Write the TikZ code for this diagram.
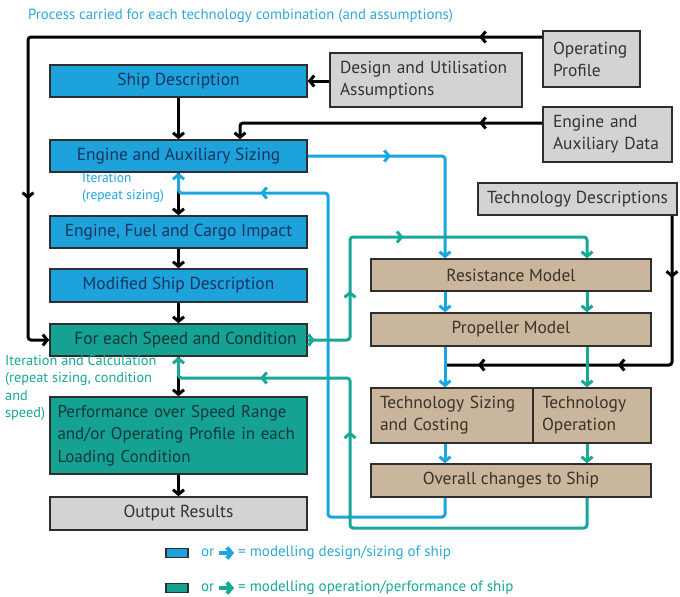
\documentclass[tikz,border=0pt]{standalone}
\usepackage{fontspec}
\setmainfont{PT Sans}
\usetikzlibrary{arrows.meta,decorations.markings,calc}
\definecolor{bfill}{HTML}{1EA2DC}
\definecolor{tfill}{HTML}{16A293}
\definecolor{brfill}{HTML}{C9B69C}
\definecolor{gfill}{HTML}{D3D3D3}
\definecolor{edge}{HTML}{2E2E2E}
\definecolor{bline}{HTML}{1AA6E0}
\definecolor{tline}{HTML}{17A898}
\definecolor{btxt}{HTML}{16355C}
\definecolor{ttxt}{HTML}{12363A}
\definecolor{brtxt}{HTML}{3B3327}
\definecolor{gtxt}{HTML}{333333}
\definecolor{note}{HTML}{2FA9D6}
\tikzset{
  bh/.tip={Straight Barb[length=4.5pt,width=11pt]},
  box/.style={draw=edge, line width=1.6pt, inner sep=0pt, font=\fontsize{17.4}{20}\selectfont},
  two/.style={align=left, font=\fontsize{17.4}{22}\selectfont},
  bluebox/.style={box, fill=bfill, text=btxt},
  tealbox/.style={box, fill=tfill, text=ttxt},
  brownbox/.style={box, fill=brfill, text=brtxt},
  graybox/.style={box, fill=gfill, text=gtxt},
  tip/.style={-bh},
  conn/.style={line width=3pt, rounded corners=3pt},
  blk/.style={conn, draw=black},
  blu/.style={conn, draw=bline},
  tea/.style={conn, draw=tline},
  marks/.style={postaction={decorate, decoration={markings, #1}}},
}
\begin{document}
\begin{tikzpicture}[x=1pt,y=-1pt]
\useasboundingbox (0,0) rectangle (680,597);
\fill[white] (0,0) rectangle (680,597);

% title
\node[anchor=west, text=note, font=\fontsize{14.8}{16}\selectfont, inner sep=0pt] (title) at (28,16) {Process carried for each technology combination (and assumptions)};

% left column
\node[bluebox, minimum width=257pt, minimum height=32pt] (sd) at (178.5,81) {Ship Description};
\node[bluebox, minimum width=257pt, minimum height=32pt] (es) at (178.5,156) {Engine and Auxiliary Sizing};
\node[bluebox, minimum width=257pt, minimum height=32pt] (efc) at (178.5,232) {Engine, Fuel and Cargo Impact};
\node[bluebox, minimum width=257pt, minimum height=33pt] (msd) at (178.5,285.5) {Modified Ship Description};
\node[tealbox, minimum width=257pt, minimum height=32pt] (fes) at (178.5,340) {\hspace*{14pt}For each Speed and Condition};
\node[tealbox, two, minimum width=257pt, minimum height=77pt, text width=246pt, font=\fontsize{17}{22.5}\selectfont] (perf) at (178.5,435.5) {\hspace*{2pt}Performance over Speed Range\\\hspace*{2pt}and/or Operating Profile in each\\\hspace*{2pt}Loading Condition};
\node[graybox, minimum width=257pt, minimum height=33pt] (out) at (178.5,513.5) {Output Results};

% gray inputs
\node[graybox, two, minimum width=192pt, minimum height=54pt, text width=172pt] (dua) at (426,80) {Design and Utilisation\\Assumptions};
\node[graybox, two, minimum width=97pt, minimum height=56pt, text width=77pt] (op) at (591.5,59) {Operating\\Profile};
\node[graybox, two, minimum width=129pt, minimum height=55pt, text width=109pt] (ead) at (607.5,134.5) {Engine and\\Auxiliary Data};
\node[graybox, minimum width=199pt, minimum height=32pt] (td) at (577.5,199) {Technology Descriptions};

% brown models
\node[brownbox, minimum width=280pt, minimum height=32pt] (res) at (511,275) {Resistance Model};
\node[brownbox, minimum width=280pt, minimum height=33pt] (prop) at (511,329.5) {Propeller Model};
\node[brownbox, two, minimum width=162pt, minimum height=55pt, text width=144pt] (ts) at (452,415.5) {Technology Sizing\\and Costing};
\node[brownbox, two, minimum width=118pt, minimum height=55pt, text width=100pt] (to) at (592,415.5) {Technology\\Operation};
\node[brownbox, minimum width=280pt, minimum height=33pt] (ov) at (511,480.5) {Overall changes to Ship};

% helper coordinates
\coordinate (cx) at (178.5,0);
\coordinate (bx) at (445,0);
\coordinate (tx) at (587,0);
\coordinate (lx) at (28,0);
\coordinate (brx) at (328,0);
\coordinate (trx) at (350,0);
\coordinate (ex) at (240,0);
\coordinate (tdx) at (672,0);
\coordinate (opy) at (0,37);
\coordinate (eady) at (0,123);
\coordinate (bry) at (0,193);
\coordinate (try) at (0,378);
\coordinate (tfy) at (0,237);
\coordinate (bby) at (0,517);
\coordinate (tby) at (0,528);
\coordinate (tdy) at (0,365);

% black connectors
\draw[blk, tip] (dua.west |- sd.east) -- (sd.east);
\draw[blk, tip] (sd.south) -- (es.north);
\draw[blk, tip] (es.south) -- (efc.north);
\draw[blk, tip] (efc.south) -- (msd.north);
\draw[blk, tip] (msd.south) -- (fes.north);
\draw[blk, tip] (fes.south) -- (perf.north);
\draw[blk, tip] (perf.south) -- (out.north);
\draw[blk, tip, marks={mark=at position 63pt with {\arrow{bh}}, mark=at position 675pt with {\arrow{bh}}}] (op.west |- opy) -- (lx |- opy) -- (lx |- fes.west) -- (fes.west);
\draw[blk, tip, marks={mark=at position 63pt with {\arrow{bh}}}] (ead.west |- eady) -- (ex |- eady) -- (es.north -| ex);
\draw[blk, marks={mark=at position 62pt with {\arrow{bh}}, mark=at position 202pt with {\arrow{bh}}, mark=at position 342pt with {\arrow{bh}}}] (td.south -| tdx) -- (tdx |- tdy) -- (bx |- tdy);

% blue connectors
\draw[blu, tip, marks={mark=at position 83pt with {\arrow{bh}}}] (es.east) -- (es.east -| bx) -- (res.north -| bx);
\draw[blu, tip] (res.south -| bx) -- (prop.north -| bx);
\draw[blu, tip] (prop.south -| bx) -- (ts.north -| bx);
\draw[blu, tip] (ts.south -| bx) -- (ov.north -| bx);
\draw[blu, tip, marks={mark=at position 524pt with {\arrow{bh}}}] (ov.south -| bx) -- (bx |- bby) -- (brx |- bby) -- (brx |- bry) -- (cx |- bry) -- (es.south);

% teal connectors
\draw[tea, tip, marks={mark=at position 7pt with {\arrow{bh}}, mark=at position 90pt with {\arrow{bh}}, mark=at position 196pt with {\arrow{bh}}}] (fes.east) -- (fes.east -| trx) -- (trx |- tfy) -- (tx |- tfy) -- (res.north -| tx);
\draw[tea, tip] (res.south -| tx) -- (prop.north -| tx);
\draw[tea, tip] (prop.south -| tx) -- (to.north -| tx);
\draw[tea, tip] (to.south -| tx) -- (ov.north -| tx);
\draw[tea, tip, marks={mark=at position 361pt with {\arrow{bh}}, mark=at position 503pt with {\arrow{bh}}}] (ov.south -| tx) -- (tx |- tby) -- (trx |- tby) -- (trx |- try) -- (cx |- try) -- (fes.south);

% iteration notes
\node[anchor=north west, text=bline, align=left, inner sep=0pt, font=\fontsize{13.5}{16.5}\selectfont] (it1) at (82,173) {Iteration\\(repeat sizing)};
\node[anchor=north west, text=tline, align=left, inner sep=0pt, font=\fontsize{14.3}{17.5}\selectfont] (it2) at (5,355) {Iteration and Calculation\\(repeat sizing, condition\\and\\speed)};

% legend
\node[draw=edge, line width=1.2pt, fill=bfill, minimum width=22pt, minimum height=9pt, inner sep=0pt] (lg1) at (177,553) {};
\node[draw=edge, line width=1.2pt, fill=tfill, minimum width=22pt, minimum height=9pt, inner sep=0pt] (lg2) at (177,588) {};
\node[anchor=west, text=note, inner sep=0pt, font=\fontsize{15}{16}\selectfont] (or1) at (201,553) {or};
\node[anchor=west, text=tline, inner sep=0pt, font=\fontsize{15}{16}\selectfont] (or2) at (201,588) {or};
\coordinate (a1s) at (219,553);
\coordinate (a1e) at (234,553);
\coordinate (a2s) at (219,588);
\coordinate (a2e) at (234,588);
\draw[line width=4pt, draw=bline, -{Straight Barb[length=4.5pt,width=11pt]}] (a1s) -- (a1e);
\draw[line width=4pt, draw=tline, -{Straight Barb[length=4.5pt,width=11pt]}] (a2s) -- (a2e);
\node[anchor=west, text=note, inner sep=0pt, font=\fontsize{15}{16}\selectfont] (lt1) at (238,553) {= modelling design/sizing of ship};
\node[anchor=west, text=tline, inner sep=0pt, font=\fontsize{15}{16}\selectfont] (lt2) at (238,588) {= modelling operation/performance of ship};
\end{tikzpicture}
\end{document}
